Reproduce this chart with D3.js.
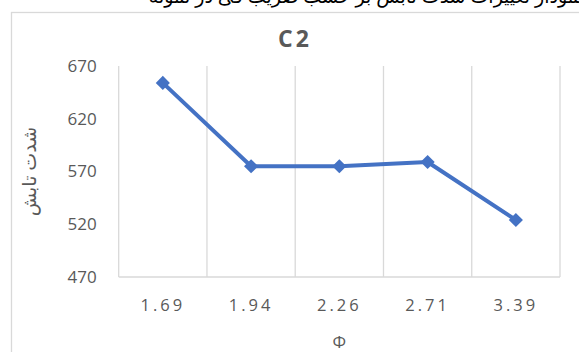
<!DOCTYPE html>
<html>
<head>
<meta charset="utf-8">
<script src="https://cdn.jsdelivr.net/npm/d3@7"></script>
<style>
  body { margin: 0; background: #fff; }
  svg { display: block; }
</style>
</head>
<body>
<div id="container"></div>
<script>
/* DATA */
const categories = ["1.69", "1.94", "2.26", "2.71", "3.39"];
const values = [654, 575, 575, 579, 524];
const yTicks = [470, 520, 570, 620, 670];

/* CONSTANTS */
const width = 579,
    height = 352,
    margin = { top: 66, bottom: 75, left: 118.7, right: 19 };

const svg = d3.select("#container")
    .append("svg")
    .attr("width", width)
    .attr("height", height);

// document text above the chart (only its lower part is in view)
svg.append("text")
    .attr("x", 584)
    .attr("y", 3)
    .attr("text-anchor", "end")
    .style("font-family", "'Noto Sans', 'DejaVu Sans', sans-serif")
    .style("font-size", "19px")
    .attr("fill", "#000")
    .text("نمودار تغییرات شدت تابش بر حسب ضریب فی در نمونه");

// chart frame
svg.append("rect")
    .attr("x", 11.5)
    .attr("y", 12.5)
    .attr("width", 700)
    .attr("height", 500)
    .attr("fill", "#fff")
    .attr("stroke", "#d9d9d9")
    .attr("stroke-width", 1.3);

// X SCALE
const xScale = d3.scaleBand()
    .domain(categories)
    .range([margin.left, width - margin.right]);

// Y SCALE
const yScale = d3.scaleLinear()
    .domain([470, 670])
    .range([height - margin.bottom, margin.top]);

// vertical gridlines at category boundaries
const bounds = categories.map(c => xScale(c)).concat([xScale.range()[1]]);
svg.append("g")
    .selectAll("line")
    .data(bounds)
    .join("line")
    .attr("x1", d => d)
    .attr("x2", d => d)
    .attr("y1", yScale(670))
    .attr("y2", yScale(470))
    .attr("stroke", "#d9d9d9")
    .attr("stroke-width", 1.3);

// bottom axis line
svg.append("line")
    .attr("x1", xScale.range()[0])
    .attr("x2", xScale.range()[1])
    .attr("y1", yScale(470))
    .attr("y2", yScale(470))
    .attr("stroke", "#d9d9d9")
    .attr("stroke-width", 1.3);

// Y AXIS labels
const yAxis = d3.axisLeft(yScale).tickValues(yTicks).tickSize(0).tickPadding(22);
svg.append("g")
    .attr("class", "axis")
    .attr("transform", `translate(${margin.left},0)`)
    .call(yAxis)
    .call(g => g.select(".domain").remove())
    .call(g => g.selectAll("text")
        .attr("fill", "#595959")
        .style("font-family", "'Open Sans', sans-serif")
        .style("font-size", "17px"));

// X AXIS labels
const xAxis = d3.axisBottom(xScale).tickSize(0).tickPadding(22);
svg.append("g")
    .attr("class", "axis")
    .attr("transform", `translate(0,${yScale(470)})`)
    .call(xAxis)
    .call(g => g.select(".domain").remove())
    .call(g => g.selectAll("text")
        .attr("fill", "#595959")
        .style("font-family", "'Open Sans', sans-serif")
        .style("font-size", "16.5px")
        .style("letter-spacing", "3px"));

// LINE
const line = d3.line()
    .x((d, i) => xScale(categories[i]) + xScale.bandwidth() / 2)
    .y(d => yScale(d));

svg.append("path")
    .datum(values)
    .attr("d", line)
    .attr("fill", "none")
    .attr("stroke", "#4472c4")
    .attr("stroke-width", 4)
    .attr("stroke-linejoin", "round");

// diamond markers
svg.selectAll(".marker")
    .data(values)
    .join("path")
    .attr("class", "marker")
    .attr("d", d3.symbol(d3.symbolSquare, 100))
    .attr("transform", (d, i) => `translate(${xScale(categories[i]) + xScale.bandwidth() / 2},${yScale(d)}) rotate(45)`)
    .attr("fill", "#4472c4");

// TITLE
svg.append("text")
    .attr("x", 295)
    .attr("y", 47)
    .attr("text-anchor", "middle")
    .attr("fill", "#595959")
    .style("font-family", "'Open Sans', sans-serif")
    .style("font-size", "23px")
    .style("font-weight", "bold")
    .style("letter-spacing", "3px")
    .text("C2");

// X AXIS TITLE
svg.append("text")
    .attr("x", (xScale.range()[0] + xScale.range()[1]) / 2)
    .attr("y", 348)
    .attr("text-anchor", "middle")
    .attr("fill", "#595959")
    .style("font-family", "'Open Sans', sans-serif")
    .style("font-size", "17px")
    .text("Φ");

// Y AXIS TITLE
svg.append("text")
    .attr("transform", `translate(36,${(yScale(470) + yScale(670)) / 2}) rotate(-90)`)
    .attr("text-anchor", "middle")
    .attr("fill", "#595959")
    .style("font-family", "'Noto Sans', 'DejaVu Sans', sans-serif")
    .style("font-size", "19px")
    .text("شدت تابش");
</script>
</body>
</html>
